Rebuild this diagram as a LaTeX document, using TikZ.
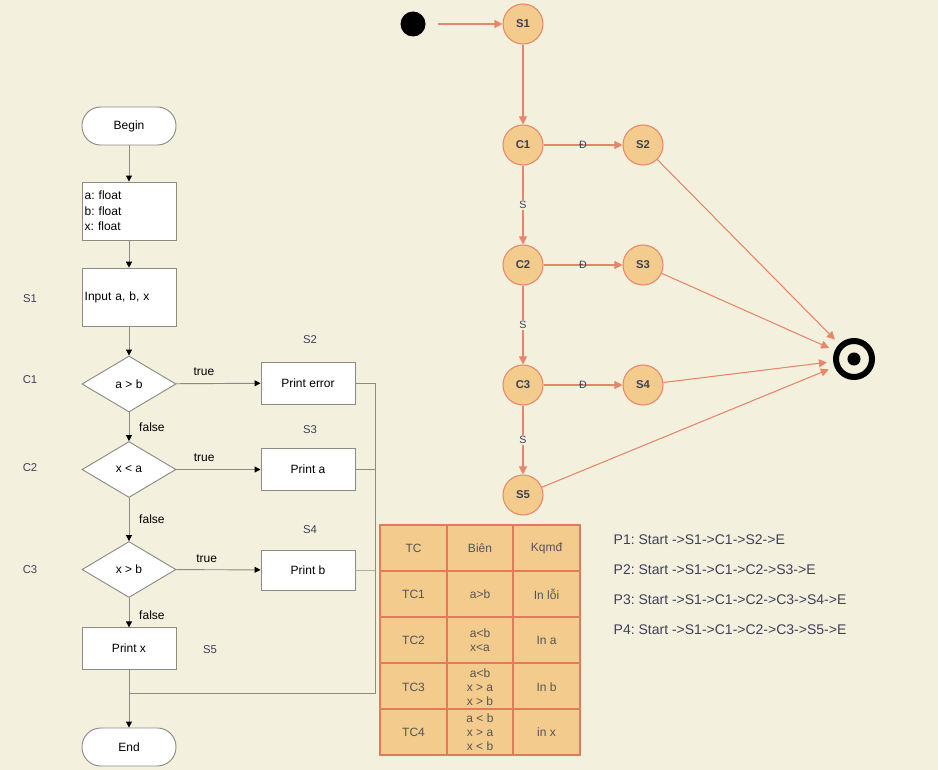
\documentclass[tikz,border=0pt]{standalone}
\usepackage{fontspec}
\setmainfont{Liberation Sans}
\usetikzlibrary{shapes.geometric,arrows.meta}

\definecolor{bgpaper}{HTML}{F4F0DE}
\definecolor{flowline}{HTML}{8C8C84}
\definecolor{labelcol}{HTML}{3E3F58}
\definecolor{statefill}{HTML}{F2CB8D}
\definecolor{statedraw}{HTML}{E5896A}
\definecolor{edgecol}{HTML}{E6866A}
\definecolor{cellfill}{HTML}{F2CB8D}
\definecolor{celldraw}{HTML}{E07C5C}
\definecolor{celltext}{HTML}{555555}

\tikzset{
  flowbox/.style={draw=flowline, fill=white, line width=0.7pt, minimum width=70.5pt,
    inner sep=2pt, font=\fontsize{9}{11.6}\selectfont},
  termbox/.style={flowbox, rounded corners=14pt, minimum height=28.5pt},
  decide/.style={flowbox, diamond, aspect=1.68, inner sep=0pt, minimum height=42pt},
  flowarrow/.style={draw=flowline, line width=0.7pt, -{Triangle[length=4.5pt,width=4.5pt,color=black]}},
  branch/.style={font=\fontsize{9}{11}\selectfont},
  sidelabel/.style={text=labelcol, font=\fontsize{8.5}{10}\selectfont},
  state/.style={circle, draw=statedraw, fill=statefill, line width=0.8pt, minimum size=30pt,
    inner sep=0pt, text=labelcol, font=\bfseries\fontsize{8.5}{10}\selectfont},
  trans/.style={draw=edgecol, line width=0.8pt, -{Triangle[length=6pt,width=6pt]}},
  dlabel/.style={text=labelcol, font=\fontsize{8}{10}\selectfont, inner sep=1pt},
  slabel/.style={dlabel, fill=bgpaper},
  cell/.style={text=celltext, align=center, font=\fontsize{9}{10.5}\selectfont},
  pathline/.style={anchor=west, text=labelcol, font=\fontsize{10.5}{12}\selectfont}
}

\begin{document}
\frenchspacing
\begin{tikzpicture}[x=0.75pt, y=-0.75pt]
\fill[bgpaper] (0,0) rectangle (938,770);
\useasboundingbox (0,0) rectangle (938,770);

% flowchart
\node[termbox] (begin) at (129,126) {Begin};
\node[flowbox, minimum height=43.5pt, text width=66.5pt, align=left] (decl) at (129,211) {a: float\\b: float\\x: float};
\node[flowbox, minimum height=44pt, text width=66.5pt, align=left] (input) at (129,297.5) {Input a, b, x};
\node[decide] (c1) at (129,384) {a > b};
\node[flowbox, minimum height=31.5pt] (perr) at (308,383) {Print error};
\node[decide] (c2) at (129,469.5) {x < a};
\node[flowbox, minimum height=31pt] (pa) at (308,469.5) {Print a};
\node[decide] (c3) at (129,569.5) {x > b};
\node[flowbox, minimum height=30pt] (pb) at (308,570) {Print b};
\node[flowbox, minimum height=31pt] (px) at (129,648.5) {Print x};
\node[termbox] (stop) at (129,747) {End};

\draw[flowarrow] (begin) -- (decl);
\draw[flowarrow] (decl) -- (input);
\draw[flowarrow] (input) -- (c1);
\draw[flowarrow] (c1) -- node[branch, above=2pt, pos=0.33] {true} (perr);
\draw[flowarrow] (c1) -- node[branch, right=4pt] {false} (c2);
\draw[flowarrow] (c2) -- node[branch, above=2pt, pos=0.33] {true} (pa);
\draw[flowarrow] (c2) -- node[branch, right=4pt] {false} (c3);
\draw[flowarrow] (c3) -- node[branch, above=2pt, pos=0.36] {true} (pb);
\draw[flowarrow] (c3) -- node[branch, right=4pt, pos=0.6] {false} (px);

\coordinate (rjoin) at (375,693);
\draw[flowline, line width=0.7pt] (perr.east) -| (rjoin) -- (rjoin -| px.south);
\draw[flowline, line width=0.7pt] (pa.east) -- (pa.east -| rjoin);
\draw[flowline!70, line width=0.7pt] (pb.east) -- (pb.east -| rjoin);
\draw[flowarrow] (px.south) -- (stop.north);

% side labels
\node[sidelabel] (lS1) at (30,299) {S1};
\node[sidelabel] (lC1) at (30,380) {C1};
\node[sidelabel] (lC2) at (30,468) {C2};
\node[sidelabel] (lC3) at (30,570) {C3};
\node[sidelabel] (lS2) at (310,340) {S2};
\node[sidelabel] (lS3) at (310,430) {S3};
\node[sidelabel] (lS4) at (310,530) {S4};
\node[sidelabel] (lS5) at (210,650) {S5};

% test case table
\draw[celldraw, fill=cellfill, line width=0.8pt] (380,525) rectangle (580,755);
\foreach \x in {447,513} \draw[celldraw, line width=0.8pt] (\x,525) -- (\x,755);
\foreach \y in {571,617,663,709} \draw[celldraw, line width=0.8pt] (380,\y) -- (580,\y);
\foreach \r/\y/\tc/\bien/\kq in {0/548/TC/Biên/Kqmđ, 1/594/TC1/{a>b}/In lỗi,
    2/640/TC2/{a<b\\x<a}/In a, 3/687/TC3/{a<b\\x > a\\x > b}/In b,
    4/732/TC4/{a < b\\x > a\\x < b}/in x}{
  \node[cell] (tc-\r) at (413.5,\y) {\tc};
  \node[cell] (bien-\r) at (480,\y) {\bien};
  \node[cell] (kq-\r) at (546.5,\y) {\kq};
}

% paths
\node[pathline] (p1) at (609,540) {P1: Start ->S1->C1->S2->E};
\node[pathline] (p2) at (609,570) {P2: Start ->S1->C1->C2->S3->E};
\node[pathline] (p3) at (609,600) {P3: Start ->S1->C1->C2->C3->S4->E};
\node[pathline] (p4) at (609,630) {P4: Start ->S1->C1->C2->C3->S5->E};

% control flow graph
\node[circle, fill=black, minimum size=18.75pt, inner sep=0pt] (start) at (413,24) {};
\node[state] (sS1) at (523,24) {S1};
\node[state] (sC1) at (523,145) {C1};
\node[state] (sS2) at (643,145) {S2};
\node[state] (sC2) at (523,265) {C2};
\node[state] (sS3) at (643,265) {S3};
\node[state] (sC3) at (523,385) {C3};
\node[state] (sS4) at (643,385) {S4};
\node[state] (sS5) at (523,495) {S5};
\node[circle, minimum size=40.5pt, inner sep=0pt] (fin) at (854,359) {};
\draw[line width=4.5pt] (fin.center) circle (13.5pt);
\fill (fin.center) circle (4.9pt);

\draw[trans, shorten <=9pt] (start) -- (sS1);
\draw[trans] (sS1) -- (sC1);
\draw[trans] (sC1) -- node[dlabel] {Đ} (sS2);
\draw[trans] (sC1) -- node[slabel] {S} (sC2);
\draw[trans] (sC2) -- node[dlabel] {Đ} (sS3);
\draw[trans] (sC2) -- node[slabel] {S} (sC3);
\draw[trans] (sC3) -- node[dlabel] {Đ} (sS4);
\draw[trans] (sC3) -- node[slabel] {S} (sS5);
\draw[trans] (sS2) -- (fin);
\draw[trans] (sS3) -- (fin);
\draw[trans] (sS4) -- (fin);
\draw[trans] (sS5) -- (fin);
\end{tikzpicture}
\end{document}
